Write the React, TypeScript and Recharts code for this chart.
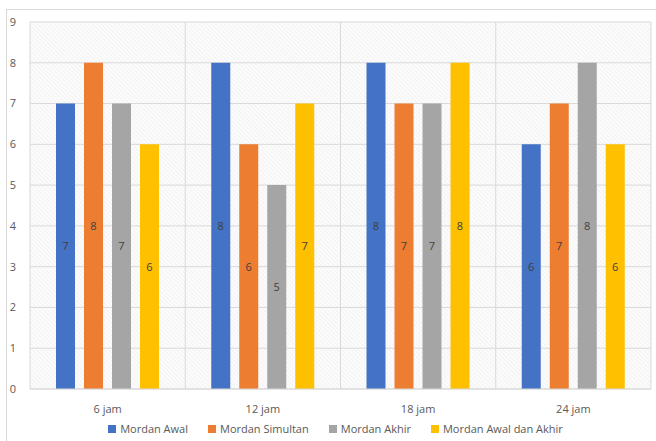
import React from 'react';
import {
    BarChart, Bar, XAxis, YAxis, CartesianGrid, Legend, LabelList
} from 'recharts';

const categories = ['6 jam', '12 jam', '18 jam', '24 jam'];
const mordanAwal = [7, 8, 8, 6];
const mordanSimultan = [8, 6, 7, 7];
const mordanAkhir = [7, 5, 7, 8];
const mordanAwalAkhir = [6, 7, 8, 6];
const yTicks = [0, 1, 2, 3, 4, 5, 6, 7, 8, 9];

const series = [
    { key: 'awal', name: 'Mordan Awal', color: '#4472C4' },
    { key: 'simultan', name: 'Mordan Simultan', color: '#ED7D31' },
    { key: 'akhir', name: 'Mordan Akhir', color: '#A5A5A5' },
    { key: 'awalAkhir', name: 'Mordan Awal dan Akhir', color: '#FFC000' },
];

const data = categories.map((name, i) => ({
    name,
    awal: mordanAwal[i],
    simultan: mordanSimultan[i],
    akhir: mordanAkhir[i],
    awalAkhir: mordanAwalAkhir[i],
}));

const FONT = '"Open Sans", "Liberation Sans", sans-serif';
const TEXT = '#595959';

// vertical grid lines sit between categories, not on them
const boundaryLines = ({ offset }: any) => {
    const out: number[] = [];
    for (let i = 0; i <= categories.length; i++) {
        out.push(offset.left + (offset.width * i) / categories.length);
    }
    return out;
};

// legend in series order (default one sorts by name)
const LegendRow = () => (
    <div style={{ display: 'flex', justifyContent: 'center', gap: 20, fontSize: 11, fontFamily: FONT, color: TEXT, paddingLeft: 20 }}>
        {series.map(s => (
            <span key={s.key} style={{ display: 'flex', alignItems: 'center' }}>
                <span style={{ width: 8, height: 8, background: s.color, marginRight: 4, display: 'inline-block' }} />
                {s.name}
            </span>
        ))}
    </div>
);

export default function App() {
    return (
        <div style={{ position: 'absolute', left: 0, top: 0, width: 656, height: 441, background: '#fff', overflow: 'hidden', fontFamily: FONT }}>
            <div style={{ position: 'absolute', left: 6, top: 9, width: 700, height: 500, border: '1px solid #d9d9d9' }} />
            <BarChart
                width={656}
                height={441}
                data={data}
                margin={{ top: 22, right: 5, left: 0, bottom: 4 }}
                barSize={19}
                barGap={9}
                style={{ position: 'absolute', left: 0, top: 0 }}
            >
                <defs>
                    <pattern id="hatch" width="3" height="3" patternUnits="userSpaceOnUse" patternTransform="rotate(-45)">
                        <rect width="3" height="3" fill="#fcfcfc" />
                        <line x1="0" y1="0" x2="0" y2="3" stroke="#e8e8e8" strokeWidth="1" />
                    </pattern>
                </defs>
                <CartesianGrid
                    fill="url(#hatch)"
                    stroke="#d9d9d9"
                    verticalCoordinatesGenerator={boundaryLines}
                />
                <XAxis
                    dataKey="name"
                    axisLine={{ stroke: '#d9d9d9' }}
                    tickLine={false}
                    tickMargin={10}
                    height={32}
                    tick={{ fill: TEXT, fontSize: 11, fontFamily: FONT }}
                />
                <YAxis
                    domain={[0, 9]}
                    ticks={yTicks}
                    axisLine={false}
                    tickLine={false}
                    width={30}
                    tickMargin={8}
                    tick={{ fill: TEXT, fontSize: 11, fontFamily: FONT }}
                />
                <Legend verticalAlign="bottom" height={16} content={<LegendRow />} />
                {series.map(s => (
                    <Bar key={s.key} dataKey={s.key} name={s.name} fill={s.color} isAnimationActive={false}>
                        <LabelList dataKey={s.key} position="center" fill="#404040" fontSize={11} fontFamily={FONT} />
                    </Bar>
                ))}
            </BarChart>
        </div>
    );
}
